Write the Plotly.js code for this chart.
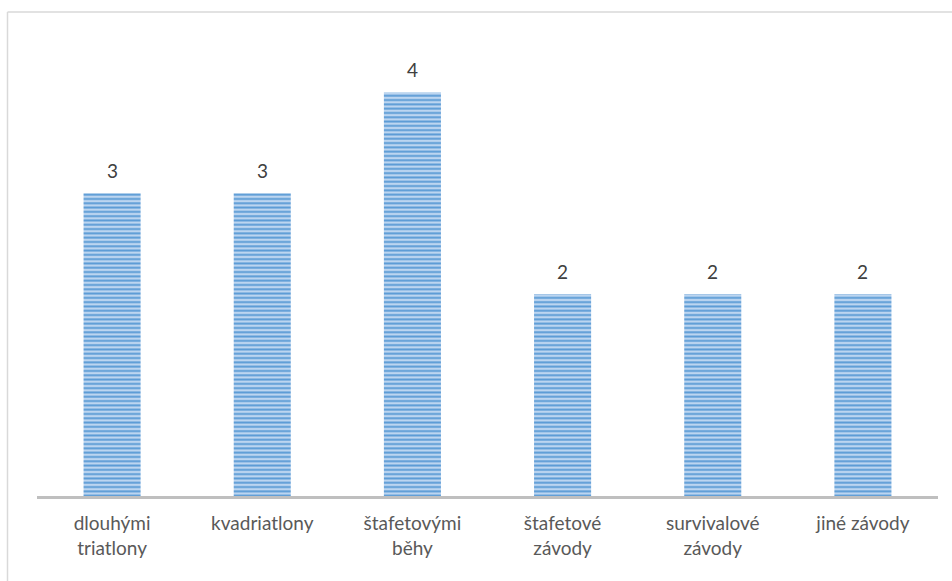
<!DOCTYPE html>
<html>
<head>
<meta charset="utf-8">
<script src="https://cdn.plot.ly/plotly-3.0.1.min.js"></script>
<style>html,body{margin:0;padding:0;background:#fff;}#chart{width:952px;height:581px;}</style>
</head>
<body>
<div id="chart"></div>
<script>
var categories = ["dlouhými<br>triatlony", "kvadriatlony", "štafetovými<br>běhy", "štafetové<br>závody", "survivalové<br>závody", "jiné závody"];
var values = [3, 3, 4, 2, 2, 2];

var W = 952, H = 581;
var L = 37, R = 14, T = 41.5, B = 85;
var pw = W - L - R, ph = H - T - B;
function px(x){ return (x - L) / pw; }
function py(y){ return (H - B - y) / ph; }

var trace = {
  type: 'bar',
  x: categories,
  y: values,
  marker: {
    color: '#b4d0ee',
    line: {width: 0},
    pattern: {shape: '-', fgcolor: '#5b9bd5', bgcolor: '#bcd5f0', size: 4.3, solidity: 0.45, fillmode: 'replace'}
  },
  hoverinfo: 'none'
};

var annotations = categories.map(function(c, i){
  return {x: c, y: values[i], text: String(values[i]), showarrow: false,
    yanchor: 'bottom', yshift: 9, font: {family: 'Lato, "Open Sans", sans-serif', size: 19, color: '#404040'}};
});

var layout = {
  width: W, height: H,
  margin: {l: L, r: R, t: T, b: B, pad: 0},
  paper_bgcolor: '#ffffff', plot_bgcolor: '#ffffff',
  showlegend: false,
  bargap: 0.62,
  font: {family: 'Lato, "Open Sans", sans-serif', size: 19, color: '#595959'},
  xaxis: {showline: true, linecolor: '#bfbfbf', linewidth: 2.5, ticks: 'outside', ticklen: 9, tickcolor: 'rgba(0,0,0,0)',
    showgrid: false, tickfont: {size: 19, color: '#595959'}, fixedrange: true},
  yaxis: {range: [0, 4.5], visible: false, showgrid: false, zeroline: false, fixedrange: true},
  annotations: annotations,
  shapes: [
    {type: 'line', xref: 'paper', yref: 'paper', x0: px(7.5), x1: px(960), y0: py(11.5), y1: py(11.5), line: {color: '#d9d9d9', width: 1.5}},
    {type: 'line', xref: 'paper', yref: 'paper', x0: px(7.5), x1: px(7.5), y0: py(11.5), y1: py(590), line: {color: '#d9d9d9', width: 1.5}}
  ]
};

Plotly.newPlot('chart', [trace], layout, {displayModeBar: false, staticPlot: true});
</script>
</body>
</html>
